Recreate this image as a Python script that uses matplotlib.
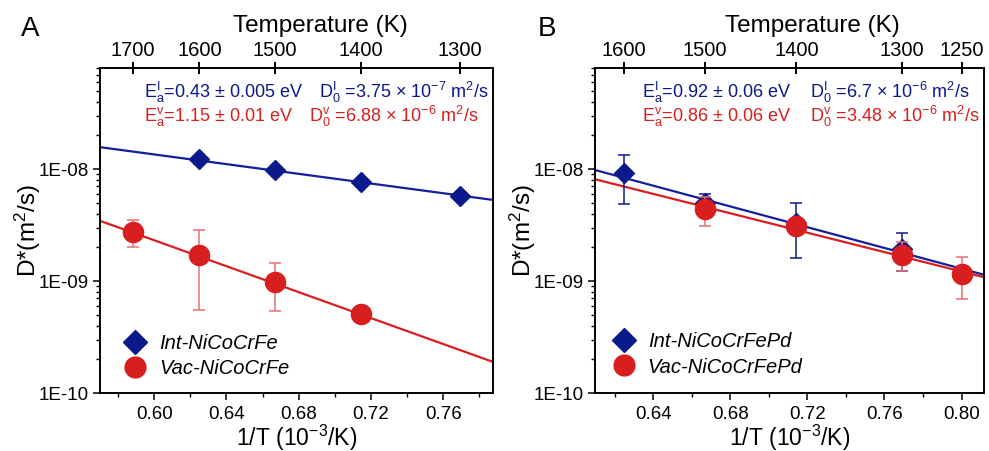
import numpy as np
import matplotlib
matplotlib.use("Agg")
import matplotlib.pyplot as plt
from matplotlib.lines import Line2D
from matplotlib.ticker import FixedLocator, FuncFormatter, LogLocator, NullLocator, MultipleLocator

plt.rcParams['font.family'] = ['Liberation Sans', 'DejaVu Sans']
plt.rcParams['mathtext.fontset'] = 'custom'
plt.rcParams['mathtext.rm'] = 'Liberation Sans'
plt.rcParams['mathtext.it'] = 'Liberation Sans:italic'

# temperatures (K) for each data point
temp_int_a = [1600, 1500, 1400, 1300]
d_int_a = [1.22e-8, 9.8e-9, 7.7e-9, 5.8e-9]
err_int_a = [1.0e-9, 5e-10, 4e-10, 3e-10]
temp_vac_a = [1700, 1600, 1500, 1400]
d_vac_a = [2.75e-9, 1.71e-9, 9.9e-10, 5.1e-10]
err_vac_a = [7.5e-10, 1.16e-9, 4.45e-10, 3e-11]

temp_int_b = [1600, 1500, 1400, 1300]
d_int_b = [9.2e-9, 5.0e-9, 3.3e-9, 1.94e-9]
err_int_b = [4.3e-9, 1.0e-9, 1.7e-9, 7.2e-10]
temp_vac_b = [1500, 1400, 1300, 1250]
d_vac_b = [4.36e-9, 3.1e-9, 1.72e-9, 1.16e-9]
err_vac_b = [1.28e-9, 3e-10, 5e-10, 4.7e-10]

# Arrhenius fit lines (Ea in eV, prefactor in m^2/s) as drawn
fit_ea = {'a_int': 0.43, 'a_vac': 1.15, 'b_int': 0.92, 'b_vac': 0.86}
fit_d0 = {'a_int': 2.7e-7, 'a_vac': 6.95e-6, 'b_int': 6.6e-6, 'b_vac': 3.57e-6}

top_temps_a = [1700, 1600, 1500, 1400, 1300]
top_temps_b = [1600, 1500, 1400, 1300, 1250]

labels_a = ['Int-NiCoCrFe', 'Vac-NiCoCrFe']
labels_b = ['Int-NiCoCrFePd', 'Vac-NiCoCrFePd']

text_a = [r'$\mathregular{E_a^I}$=0.43 ± 0.005 eV', r'$\mathregular{D_0^I}$ =3.75 × 10$^{\mathregular{-7}}$ m$^{\mathregular{2}}$/s',
          r'$\mathregular{E_a^v}$=1.15 ± 0.01 eV', r'$\mathregular{D_0^v}$ =6.88 × 10$^{\mathregular{-6}}$ m$^{\mathregular{2}}$/s']
text_b = [r'$\mathregular{E_a^I}$=0.92 ± 0.06 eV', r'$\mathregular{D_0^I}$ =6.7 × 10$^{\mathregular{-6}}$ m$^{\mathregular{2}}$/s',
          r'$\mathregular{E_a^v}$=0.86 ± 0.06 eV', r'$\mathregular{D_0^v}$ =3.48 × 10$^{\mathregular{-6}}$ m$^{\mathregular{2}}$/s']

BLUE = '#0b1a8a'
BLUE_LINE = '#14209a'
RED = '#d81e1e'
RED_ERR = '#e57070'
KB = 8.617e-5


def inv(temps):
    return 1000.0 / np.array(temps, dtype=float)


def fit_line(ax, key, xlim, color):
    x = np.linspace(xlim[0], xlim[1], 50)
    y = fit_d0[key] * np.exp(-fit_ea[key] * x / (KB * 1000))
    ax.plot(x, y, color=color, lw=1.6, zorder=2)


def panel(ax, letter, letter_x, xlim, xticks, top_temps, series, labels, leg_anchor,
          texts, text_pos):
    ax.set_yscale('log')
    ax.set_xlim(*xlim)
    ax.set_ylim(1e-10, 8e-8)
    (ti, di, ei, ki), (tv, dv, ev, kv) = series
    fit_line(ax, kv, xlim, RED)
    fit_line(ax, ki, xlim, BLUE_LINE)
    ax.errorbar(inv(ti), di, yerr=ei, fmt='D', ms=10.5, color=BLUE, ecolor=BLUE,
                elinewidth=1.1, capsize=4, capthick=1.1, zorder=3)
    ax.errorbar(inv(tv), dv, yerr=ev, fmt='o', ms=14.5, color=RED, ecolor=RED_ERR,
                elinewidth=1.1, capsize=4, capthick=1.1, zorder=4)

    ax.xaxis.set_major_locator(FixedLocator(xticks))
    ax.xaxis.set_minor_locator(MultipleLocator(0.02))
    ax.xaxis.set_major_formatter(FuncFormatter(lambda v, p: f'{v:.2f}'))
    ax.yaxis.set_major_locator(LogLocator(base=10, numticks=10))
    ax.yaxis.set_minor_locator(LogLocator(base=10, subs=np.arange(2, 10), numticks=10))
    ax.yaxis.set_major_formatter(FuncFormatter(lambda v, p: f'1E{int(round(np.log10(v))):03d}'))
    ax.tick_params(which='major', direction='out', length=5, width=1.1)
    ax.tick_params(which='minor', direction='out', length=3, width=1.0)
    ax.tick_params(axis='x', labelsize=13.5, pad=4)
    ax.tick_params(axis='y', labelsize=13.5, pad=3)
    for s in ax.spines.values():
        s.set_linewidth(1.2)
    ax.set_xlabel(r'1/T (10$^{\mathregular{-3}}$/K)', fontsize=16.5, labelpad=0)
    ax.set_ylabel(r'D*(m$^{\mathregular{2}}$/s)', fontsize=17.5, labelpad=-3)

    top = ax.twiny()
    top.set_xlim(ax.get_xlim())
    top.set_xticks(inv(top_temps))
    top.set_xticklabels([str(t) for t in top_temps])
    top.xaxis.set_minor_locator(NullLocator())
    top.tick_params(direction='inout', length=9, width=1.4, labelsize=14.5, pad=1)
    top.set_xlabel('Temperature (K)', fontsize=17.5)
    top.xaxis.set_label_coords(0.56, 1.11)
    for s in top.spines.values():
        s.set_linewidth(1.2)

    handles = [Line2D([], [], marker='D', ls='none', ms=12, color=BLUE),
               Line2D([], [], marker='o', ls='none', ms=15, color=RED)]
    ax.legend(handles, labels, loc='lower left', bbox_to_anchor=leg_anchor, frameon=False,
              prop={'style': 'italic', 'size': 14.5}, handletextpad=0.45, labelspacing=0.32,
              handlelength=1.5)

    (x1, x2, xr), y1, y2 = text_pos
    ax.text(x1, y1, texts[0], transform=ax.transAxes, color=BLUE, fontsize=13, va='center')
    ax.text(x2, y1, texts[1], transform=ax.transAxes, color=BLUE, fontsize=13, va='center')
    ax.text(x1, y2, texts[2], transform=ax.transAxes, color=RED, fontsize=13, va='center')
    ax.text(xr, y2, texts[3], transform=ax.transAxes, color=RED, fontsize=13, va='center')
    ax.text(letter_x, 1.12, letter, transform=ax.transAxes, fontsize=20, va='center')


fig = plt.figure(figsize=(9.89, 4.51), dpi=100)
ax_a = fig.add_axes([0.1011, 0.1286, 0.3974, 0.7206])
ax_b = fig.add_axes([0.6016, 0.1286, 0.3933, 0.7206])

panel(ax_a, 'A', -0.2, (0.570, 0.7875), [0.60, 0.64, 0.68, 0.72, 0.76], top_temps_a,
      [(temp_int_a, d_int_a, err_int_a, 'a_int'), (temp_vac_a, d_vac_a, err_vac_a, 'a_vac')],
      labels_a, (0.005, -0.01), text_a, ((0.112, 0.557, 0.532), 0.925, 0.85))
panel(ax_b, 'B', -0.147, (0.6098, 0.8116), [0.64, 0.68, 0.72, 0.76, 0.80], top_temps_b,
      [(temp_int_b, d_int_b, err_int_b, 'b_int'), (temp_vac_b, d_vac_b, err_vac_b, 'b_vac')],
      labels_b, (-0.012, -0.005), text_b, ((0.122, 0.552, 0.552), 0.925, 0.85))

fig.savefig('out.png', dpi=100)
